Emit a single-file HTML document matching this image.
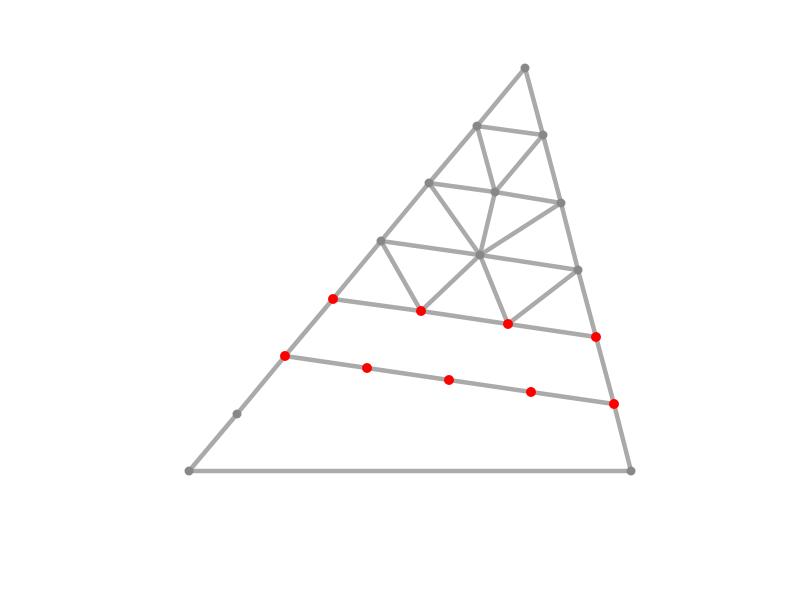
<!DOCTYPE html>
<html>
<head>
<meta charset="utf-8">
<style>
  html,body{margin:0;padding:0;background:#fff;}
  svg{display:block;}
</style>
</head>
<body>
<svg id="chart" width="800" height="600" viewBox="0 0 800 600" xmlns="http://www.w3.org/2000/svg">
  <g id="edges"></g>
  <g id="nodes"></g>
</svg>
<script>
// Node coordinates in data units (x: 0..10, y: 0..10, y up)
const nodeX = [5.25,4.77,5.43,4.29,4.95,5.61,3.81,4.80,5.78,3.33,4.21,5.08,5.96,2.85,3.67,4.49,5.31,6.14,2.37,1.89,6.31];
const nodeY = [5.32,4.74,4.65,4.17,4.08,3.97,3.59,3.45,3.30,3.01,2.89,2.76,2.63,2.44,2.32,2.20,2.08,1.96,1.86,1.29,1.29];
const nodeKind = ['g','g','g','g','g','g','g','g','g','r','r','r','r','r','r','r','r','r','g','g','g'];
const edgeFrom = [0,1,3,6,9,13,18, 0,2,5,8,12,17, 19, 1, 3,4, 6,7, 9,10,11, 13,14,15,16, 1,2,3,4,5,6,7,7,8];
const edgeTo   = [1,3,6,9,13,18,19, 2,5,8,12,17,20, 20, 2, 4,5, 7,8, 10,11,12, 14,15,16,17, 4,4,7,7,7,10,10,11,11];

function xScale(v){ return 189 + (v - 1.89) * 100; }
function yScale(v){ return 471 - (v - 1.29) * 100; }

const NS = 'http://www.w3.org/2000/svg';
const eg = document.getElementById('edges');
const ng = document.getElementById('nodes');

for(let i=0;i<edgeFrom.length;i++){
  const a = edgeFrom[i], b = edgeTo[i];
  const l = document.createElementNS(NS,'line');
  l.setAttribute('x1', xScale(nodeX[a])); l.setAttribute('y1', yScale(nodeY[a]));
  l.setAttribute('x2', xScale(nodeX[b])); l.setAttribute('y2', yScale(nodeY[b]));
  l.setAttribute('stroke','#aaaaaa'); l.setAttribute('stroke-width','4.5');
  l.setAttribute('stroke-linecap','round');
  
  
  eg.appendChild(l);
}

for(let i=0;i<nodeX.length;i++){
  const c = document.createElementNS(NS,'circle');
  c.setAttribute('cx', xScale(nodeX[i])); c.setAttribute('cy', yScale(nodeY[i]));
  c.setAttribute('r', nodeKind[i]==='r' ? 5 : 4.5);
  c.setAttribute('fill', nodeKind[i]==='r' ? '#ff0000' : '#888888');
  
  
  ng.appendChild(c);
}
</script>
</body>
</html>
